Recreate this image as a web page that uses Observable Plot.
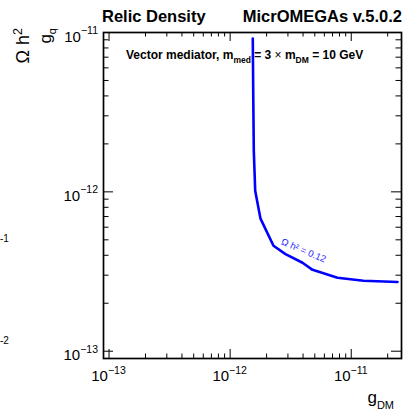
<!DOCTYPE html>
<html><head><meta charset="utf-8">
<script src="https://cdn.jsdelivr.net/npm/d3@7"></script>
<script src="https://cdn.jsdelivr.net/npm/@observablehq/plot@0.6"></script>
<style>html,body{margin:0;padding:0;background:#fff;overflow:hidden}</style>
</head><body><div id="chart"></div>
<script>
// Relic density contour (Omega h^2 = 0.12): g_DM vs g_q
const gDM = [1.538e-12, 1.553e-12, 1.568e-12, 1.61e-12, 1.781e-12, 2.28e-12, 2.865e-12, 3.96e-12, 4.79e-12, 7.70e-12, 1.263e-11, 2.41e-11];
const gq  = [9.17e-12, 3.74e-12, 1.815e-12, 1.017e-12, 6.79e-13, 4.59e-13, 4.07e-13, 3.59e-13, 3.24e-13, 2.89e-13, 2.77e-13, 2.72e-13];

const xDomain = [9e-14, 2.6e-11];
const yDomain = [9e-14, 1e-11];
const xMajor = [1e-13, 1e-12, 1e-11];
const xExp = ["\u221213", "\u221212", "\u221211"];
const yMajor = [1e-13, 1e-12, 1e-11];
const yExp = ["\u221213", "\u221212", "\u221211"];
const xMinor = [9e-14,
  2e-13,3e-13,4e-13,5e-13,6e-13,7e-13,8e-13,9e-13,
  2e-12,3e-12,4e-12,5e-12,6e-12,7e-12,8e-12,9e-12,
  2e-11];
const yMinor = [9e-14,
  2e-13,3e-13,4e-13,5e-13,6e-13,7e-13,8e-13,9e-13,
  2e-12,3e-12,4e-12,5e-12,6e-12,7e-12,8e-12,9e-12];

const curveLabel = "\u03A9 h\u00B2 = 0.12";
const curveLabelPos = [{x: 4.04e-12, y: 4.28e-13}];

const W = 406, H = 412;
const mL = 103, mR = 5, mT = 32, mB = 54;
const fW = W - mL - mR, fH = H - mT - mB;
const FONT = "'Liberation Sans', Arial, Helvetica, sans-serif";

const curve = gDM.map((x, i) => ({x, y: gq[i]}));

const plot = Plot.plot({
  width: W, height: H,
  marginLeft: mL, marginRight: mR, marginTop: mT, marginBottom: mB,
  style: {fontFamily: FONT, fontSize: "10px", background: "#fff", overflow: "visible"},
  x: {type: "log", domain: xDomain, axis: null},
  y: {type: "log", domain: yDomain, axis: null},
  marks: [
    Plot.tickX(xMajor, {x: d => d, insetTop: fH - 9, stroke: "black", strokeWidth: 1}),
    Plot.tickX(xMajor, {x: d => d, insetBottom: fH - 9, stroke: "black", strokeWidth: 1}),
    Plot.tickX(xMinor, {x: d => d, insetTop: fH - 4.5, stroke: "black", strokeWidth: 1}),
    Plot.tickX(xMinor, {x: d => d, insetBottom: fH - 4.5, stroke: "black", strokeWidth: 1}),
    Plot.tickY(yMajor, {y: d => d, insetRight: fW - 10, stroke: "black", strokeWidth: 1}),
    Plot.tickY(yMajor, {y: d => d, insetLeft: fW - 10, stroke: "black", strokeWidth: 1}),
    Plot.tickY(yMinor, {y: d => d, insetRight: fW - 5.5, stroke: "black", strokeWidth: 1}),
    Plot.tickY(yMinor, {y: d => d, insetLeft: fW - 5.5, stroke: "black", strokeWidth: 1}),
    Plot.line(curve, {x: "x", y: "y", stroke: "#0000ff", strokeWidth: 2.6, strokeLinejoin: "miter", clip: true}),
    Plot.text(curveLabelPos, {x: "x", y: "y", text: () => curveLabel, rotate: 23, fill: "#2a2aff", fontSize: 9.5, fontFamily: FONT}),
    Plot.frame({stroke: "black", strokeWidth: 1.7})
  ]
});

const svg = d3.select(plot);
const sx = plot.scale("x"), sy = plot.scale("y");

xMajor.forEach((v, i) => {
  const t = svg.append("text").attr("x", sx.apply(v)).attr("y", 381)
    .attr("text-anchor", "middle").attr("font-size", 15).attr("fill", "black");
  t.append("tspan").text("10");
  t.append("tspan").attr("dy", -7.5).attr("font-size", 10.5).text(xExp[i]);
});
yMajor.forEach((v, i) => {
  const t = svg.append("text").attr("x", 98).attr("y", sy.apply(v) + 9.5)
    .attr("text-anchor", "end").attr("font-size", 15).attr("fill", "black");
  t.append("tspan").text("10");
  t.append("tspan").attr("dy", -7.5).attr("font-size", 10.5).text(yExp[i]);
});

svg.append("text").attr("x", 102).attr("y", 22).attr("text-anchor", "start")
  .attr("font-size", 16.5).attr("font-weight", "bold").text("Relic Density");
svg.append("text").attr("x", 402).attr("y", 22).attr("font-size", 16.5).attr("font-weight", "bold")
  .attr("text-anchor", "end").text("MicrOMEGAs v.5.0.2");

{
  const t = svg.append("text").attr("x", 394).attr("y", 403).attr("text-anchor", "end").attr("font-size", 17);
  t.append("tspan").text("g");
  t.append("tspan").attr("dy", 6).attr("font-size", 11).text("DM");
}
{
  const t = svg.append("text").attr("transform", "translate(29,28) rotate(-90)").attr("text-anchor", "end").attr("font-size", 18);
  t.append("tspan").text("\u03A9 h");
  t.append("tspan").attr("dy", -7).attr("font-size", 12.5).text("2");
}
{
  const t = svg.append("text").attr("transform", "translate(51,28) rotate(-90)").attr("text-anchor", "end").attr("font-size", 17);
  t.append("tspan").text("g");
  t.append("tspan").attr("dy", 5).attr("font-size", 11).text("q");
}
{
  const t = svg.append("text").attr("x", 126).attr("y", 59).attr("text-anchor", "start")
    .attr("font-size", 12).attr("font-weight", "bold");
  t.append("tspan").text("Vector mediator, m");
  t.append("tspan").attr("dy", 4).attr("font-size", 8.5).text("med");
  t.append("tspan").attr("dy", -4).text(" = 3 ");
  t.append("tspan").attr("font-weight", "normal").text("\u00D7");
  t.append("tspan").text(" m");
  t.append("tspan").attr("dy", 4).attr("font-size", 8.5).text("DM");
  t.append("tspan").attr("dy", -4).text(" = 10 GeV");
}
svg.append("text").attr("x", 0).attr("y", 242).attr("text-anchor", "start").attr("font-size", 10).text("-1");
svg.append("text").attr("x", 0).attr("y", 344).attr("text-anchor", "start").attr("font-size", 10).text("-2");

document.getElementById("chart").appendChild(plot);
</script>
</body></html>
